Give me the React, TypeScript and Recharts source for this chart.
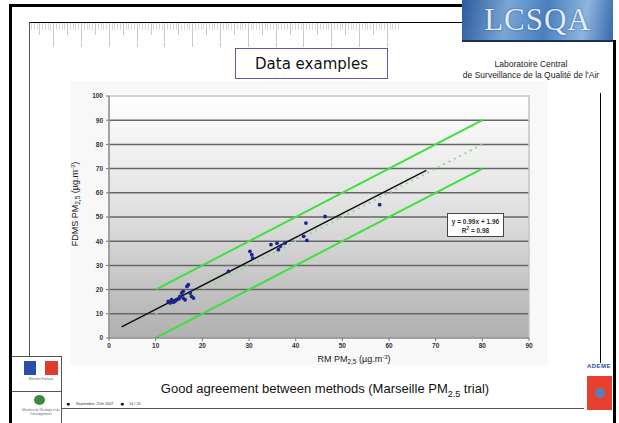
import React from 'react';
import { ComposedChart, Scatter, Line, XAxis, YAxis, CartesianGrid, ReferenceArea, Label } from 'recharts';

const xTicks = [0, 10, 20, 30, 40, 50, 60, 70, 80, 90];
const yTicks = [0, 10, 20, 30, 40, 50, 60, 70, 80, 90, 100];
const gridValues = [10, 20, 30, 40, 50, 60, 70, 80, 90];

const rmValues = [12.7, 13.1, 13.4, 13.8, 14.1, 14.5, 15.0, 15.2, 15.6, 15.9, 15.9, 16.3, 16.7, 17.0, 17.4, 17.7, 18.1, 25.6, 30.2, 30.6, 30.8, 34.7, 36.0, 36.3, 36.7, 37.7, 41.7, 42.2, 42.4, 46.3, 58.0];
const fdmsValues = [15.1, 14.5, 15.8, 14.8, 15.1, 15.8, 16.2, 17.2, 18.6, 19.3, 16.5, 15.8, 21.3, 22.0, 18.6, 17.2, 16.5, 27.5, 35.8, 34.4, 33.0, 38.6, 39.2, 36.5, 37.9, 39.2, 42.0, 47.5, 40.3, 50.2, 55.1];

const limitX = [10, 80];
const upperLimitY = [20, 90];
const lowerLimitY = [0, 70];
const identityY = [10, 80];
const regressionX = [2.7, 68];
const regressionY = [4.63, 69.28];

const points = rmValues.map((x, i) => ({ x, y: fdmsValues[i] }));
const upperData = limitX.map((x, i) => ({ x, y: upperLimitY[i] }));
const lowerData = limitX.map((x, i) => ({ x, y: lowerLimitY[i] }));
const identityData = limitX.map((x, i) => ({ x, y: identityY[i] }));
const regressionData = regressionX.map((x, i) => ({ x, y: regressionY[i] }));

const tickStyle = { fontSize: 6.5, fontWeight: 'bold' as const, fill: '#333', fontFamily: 'Liberation Sans, Arial, sans-serif' };

const abs = (s: React.CSSProperties): React.CSSProperties => ({ position: 'absolute', ...s });

function Ruler() {
  const ticks = [];
  for (let i = 0; i < 133; i++) {
    const x = 31 + i * 2.78;
    let h = 7;
    if (i % 10 === 8) h = 24;
    else if (i % 5 === 3) h = 12;
    ticks.push(<div key={i} style={abs({ left: x, top: 23, width: 1, height: h, background: h > 7 ? '#c8c8c8' : '#d8d8d8' })} />);
  }
  return <>{ticks}</>;
}

export default function App() {
  return (
    <div style={{ position: 'fixed', left: 0, top: 0, width: 619, height: 423, background: '#fff', overflow: 'hidden', fontFamily: 'Liberation Sans, Arial, sans-serif' }}>
      {/* frames */}
      <div style={abs({ left: 9, top: 4, width: 455, height: 3, background: '#000' })} />
      <div style={abs({ left: 9, top: 4, width: 3, height: 419, background: '#000' })} />
      <div style={abs({ left: 613, top: 40, width: 3, height: 383, background: '#000' })} />
      <div style={abs({ left: 29, top: 22, width: 434, height: 1, background: '#000' })} />
      <div style={abs({ left: 29, top: 22, width: 1, height: 334, background: '#555' })} />
      <Ruler />
      {/* chart image background */}
      <div style={abs({ left: 70, top: 81, width: 478, height: 284, background: '#f8f8f8' })} />

      {/* Data examples */}
      <div style={abs({ left: 235, top: 48, width: 151, height: 29, border: '1px solid #7050a8', background: '#fff', display: 'flex', alignItems: 'center', justifyContent: 'center', fontFamily: '"DejaVu Sans", sans-serif', fontSize: 15, color: '#111' })}>Data examples</div>

      {/* LCSQA logo */}
      <div style={abs({ left: 462, top: 0, width: 151, height: 40, background: 'linear-gradient(100deg, #2a5b9c 0%, #7aa6d6 30%, #4a7fbf 55%, #8db4de 80%, #3569ab 100%)', borderBottom: '2px solid #1c2f55', display: 'flex', alignItems: 'center', justifyContent: 'center' })}>
        <span style={{ fontFamily: '"Liberation Serif", "DejaVu Serif", serif', fontSize: 31, color: '#e4edf8', letterSpacing: 1, textShadow: '0 0 2px #2a5090' }}>LCSQA</span>
      </div>
      <div style={abs({ left: 453, top: 59, width: 156, textAlign: 'center', fontSize: 8.5, color: '#222', lineHeight: '11px' })}>
        Laboratoire Central<br />de Surveillance de la Qualité de l'Air
      </div>
      <div style={abs({ left: 600, top: 93, width: 1, height: 270, background: '#000' })} />

      <div style={abs({ left: 0, top: 0 })}>
        <ComposedChart width={619} height={423} margin={{ top: 96, right: 90, bottom: 65, left: 79 }}>
          <defs>
            <linearGradient id="plotBg" x1="0" y1="0" x2="0" y2="1">
              <stop offset="0%" stopColor="#ffffff" />
              <stop offset="45%" stopColor="#e2e2e2" />
              <stop offset="100%" stopColor="#b0b0b0" />
            </linearGradient>
          </defs>
          <CartesianGrid vertical={false} horizontalValues={gridValues} stroke="#666" strokeWidth={1.5} fill="url(#plotBg)" fillOpacity={1} />
          <ReferenceArea x1={0} x2={90} y1={0} y2={100} fill="none" stroke="#c4c4c4" strokeWidth={1.5} ifOverflow="visible" />
          <XAxis type="number" dataKey="x" domain={[0, 90]} ticks={xTicks} height={20} tick={tickStyle} tickSize={3} tickMargin={2} stroke="#777" allowDataOverflow>
            <Label content={() => (
              <text x={354} y={362} textAnchor="middle" fontSize={9} fill="#222" fontFamily="Liberation Sans, Arial, sans-serif">
                RM  PM<tspan fontSize={6.5} dy={2}>2,5</tspan><tspan dy={-2}> (µg.m</tspan><tspan fontSize={6} dy={-3}>-3</tspan><tspan dy={3}>)</tspan>
              </text>
            )} />
          </XAxis>
          <YAxis type="number" domain={[0, 100]} ticks={yTicks} width={30} tick={tickStyle} tickSize={3} tickMargin={3} stroke="#777" allowDataOverflow>
            <Label content={() => (
              <text x={0} y={0} transform="translate(78,204) rotate(-90)" textAnchor="middle" fontSize={9} fill="#222" fontFamily="Liberation Sans, Arial, sans-serif">
                FDMS PM<tspan fontSize={6.5} dy={2}>2,5</tspan><tspan dy={-2}>  (µg.m</tspan><tspan fontSize={6} dy={-3}>-3</tspan><tspan dy={3}>)</tspan>
              </text>
            )} />
          </YAxis>
          <Line data={upperData} dataKey="y" type="linear" stroke="#3ee03e" strokeWidth={2} dot={false} isAnimationActive={false} />
          <Line data={lowerData} dataKey="y" type="linear" stroke="#3ee03e" strokeWidth={2} dot={false} isAnimationActive={false} />
          <Line data={identityData} dataKey="y" type="linear" stroke="#8fd88f" strokeWidth={1.8} strokeDasharray="2 4" dot={false} isAnimationActive={false} />
          <Line data={regressionData} dataKey="y" type="linear" stroke="#111" strokeWidth={1.5} dot={false} isAnimationActive={false} />
          <Scatter data={points} dataKey="y" fill="#1e2290" isAnimationActive={false}
            shape={(p: any) => <circle cx={p.cx} cy={p.cy} r={1.9} fill="#1e2290" />} />
        </ComposedChart>
      </div>

      {/* equation box */}
      <div style={abs({ left: 447, top: 213, width: 57, height: 24, border: '1px solid #444', background: '#fff', fontSize: 6.5, fontWeight: 'bold', color: '#333', textAlign: 'center', lineHeight: '9px', paddingTop: 3, boxSizing: 'border-box' })}>
        y = 0.99x + 1.96<br />R<sup style={{ fontSize: 4.5, lineHeight: 0 }}>2</sup> = 0.98
      </div>

      {/* caption */}
      <div style={abs({ left: 60, top: 381, width: 530, textAlign: 'center', fontSize: 13, color: '#111' })}>
        Good agreement between methods (Marseille PM<sub style={{ fontSize: 9 }}>2.5</sub> trial)
      </div>

      {/* footer */}
      <div style={abs({ left: 62, top: 408, width: 522, height: 1, background: '#555' })} />
      <div style={abs({ left: 66, top: 400, fontSize: 7, color: '#000' })}>●</div>
      <div style={abs({ left: 76, top: 402, fontSize: 3.8, color: '#333', whiteSpace: 'nowrap' })}>September, 25th 2007</div>
      <div style={abs({ left: 120, top: 400, fontSize: 7, color: '#000' })}>●</div>
      <div style={abs({ left: 129, top: 402, fontSize: 3.8, color: '#333', whiteSpace: 'nowrap' })}>14 / 20</div>

      {/* left logos */}
      <div style={abs({ left: 12, top: 356, width: 50, height: 1, background: '#555' })} />
      <div style={abs({ left: 24, top: 361, width: 12, height: 14, background: '#2a4fa8' })} />
      <div style={abs({ left: 36, top: 361, width: 9, height: 14, background: '#fff' })} />
      <div style={abs({ left: 45, top: 361, width: 13, height: 14, background: '#e23a2f' })} />
      <div style={abs({ left: 22, top: 377, width: 38, fontSize: 3, color: '#666', textAlign: 'center' })}>Ministère Français</div>
      <div style={abs({ left: 12, top: 391, width: 50, height: 1, background: '#555' })} />
      <div style={abs({ left: 34, top: 395, width: 11, height: 10, borderRadius: '50%', background: '#3f8a3a' })} />
      <div style={abs({ left: 22, top: 408, width: 38, fontSize: 3, color: '#666', textAlign: 'center', lineHeight: '4px' })}>Ministère de l'Écologie et du Développement</div>
      <div style={abs({ left: 61, top: 356, width: 1, height: 67, background: '#555' })} />

      {/* ADEME */}
      <div style={abs({ left: 584, top: 363, width: 30, textAlign: 'center', fontSize: 6, fontWeight: 'bold', color: '#1f4fa0', letterSpacing: 0.5 })}>ADEME</div>
      <div style={abs({ left: 587, top: 376, width: 25, height: 34, background: '#e8402e', display: 'flex', alignItems: 'center', justifyContent: 'center' })}>
        <div style={{ width: 10, height: 10, borderRadius: '50%', background: '#5a7fc0' }} />
      </div>
    </div>
  );
}
